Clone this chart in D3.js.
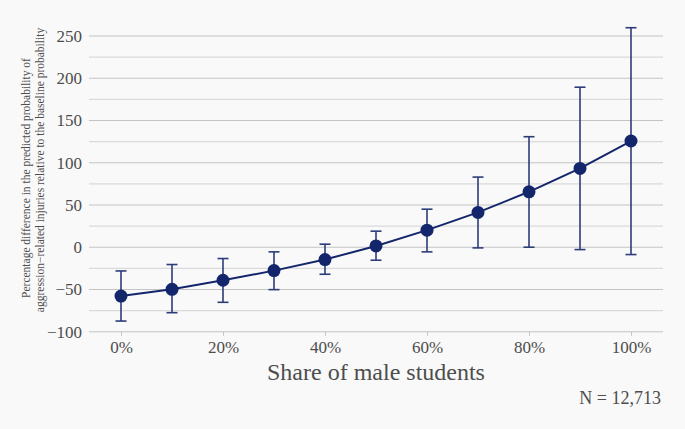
<!DOCTYPE html>
<html><head><meta charset="utf-8">
<script src="https://cdn.jsdelivr.net/npm/d3@7/dist/d3.min.js"></script>
<style>html,body{margin:0;padding:0;background:#f9f9f9;}svg{display:block;} svg text{font-family:"Liberation Serif","Times New Roman",serif;}</style>
</head><body><svg id="c" width="685" height="429"></svg>
<script>
const shares = [0, 10, 20, 30, 40, 50, 60, 70, 80, 90, 100];
const estimate = [-57.8, -49.8, -39.1, -27.7, -14.6, 1.5, 20.2, 41.2, 65.6, 93.3, 125.7];
const lower = [-87.4, -77.5, -65.2, -50.2, -32, -15.4, -5.5, -0.8, 0, -2.8, -8.7];
const upper = [-28.1, -20.5, -13.4, -5.5, 3.6, 19, 45, 83, 130.8, 189.4, 259.8];
const yTicks = [-100, -50, 0, 50, 100, 150, 200, 250];
const yGrid = [-100, -75, -50, -25, 0, 25, 50, 75, 100, 125, 150, 175, 200, 225, 250];
const xTicks = [0, 20, 40, 60, 80, 100];

const svg = d3.select("#c");
const font = '"Liberation Serif", "Times New Roman", serif';
const L = 89, R = 663;
const x = d3.scaleLinear().domain([0, 100]).range([121, 631]);
const y = d3.scaleLinear().domain([-100, 250]).range([331.7, 36]);

svg.append("rect").attr("width", 685).attr("height", 429).attr("fill", "#f9f9f9");

// gridlines
svg.append("g").selectAll("line").data(yGrid).join("line")
  .attr("x1", L).attr("x2", R)
  .attr("y1", d => y(d)).attr("y2", d => y(d))
  .attr("stroke", d => d % 50 === 0 ? "#c4c4c4" : "#dadada")
  .attr("stroke-width", 1.1);

// y axis labels
const yAxis = d3.axisLeft(y).tickValues(yTicks).tickSize(0).tickPadding(7)
  .tickFormat(d => d < 0 ? "\u2212" + Math.abs(d) : d);
const gy = svg.append("g").attr("transform", `translate(${L},0)`).call(yAxis);
gy.attr("font-family", null);
gy.select(".domain").remove();
gy.selectAll("text").style("font-family", font).style("font-size", "17px").attr("fill", "#4d4d4d");

// x axis
const xAxis = d3.axisBottom(x).tickValues(xTicks).tickSize(4).tickPadding(5)
  .tickFormat(d => d + "%");
const gx = svg.append("g").attr("transform", `translate(0,${y(-100)})`).call(xAxis);
gx.attr("font-family", null);
gx.select(".domain").remove();
gx.selectAll("line").attr("stroke", "#c4c4c4");
gx.selectAll("text").style("font-family", font).style("font-size", "17px").attr("fill", "#4d4d4d");

const data = shares.map((s, i) => ({s, e: estimate[i], lo: lower[i], hi: upper[i]}));
const col = "#14266b", ecol = "#2c3c78";

// error bars
const eb = svg.append("g").attr("stroke", ecol).attr("stroke-width", 1.6).attr("fill", "none");
eb.selectAll("line.v").data(data).join("line").attr("class", "v")
  .attr("x1", d => x(d.s)).attr("x2", d => x(d.s))
  .attr("y1", d => y(d.lo)).attr("y2", d => y(d.hi));
eb.selectAll("line.t").data(data).join("line").attr("class", "t")
  .attr("x1", d => x(d.s) - 5.5).attr("x2", d => x(d.s) + 5.5)
  .attr("y1", d => y(d.hi)).attr("y2", d => y(d.hi));
eb.selectAll("line.b").data(data).join("line").attr("class", "b")
  .attr("x1", d => x(d.s) - 5.5).attr("x2", d => x(d.s) + 5.5)
  .attr("y1", d => y(d.lo)).attr("y2", d => y(d.lo));

// line
svg.append("path").datum(data)
  .attr("d", d3.line().x(d => x(d.s)).y(d => y(d.e)))
  .attr("fill", "none").attr("stroke", col).attr("stroke-width", 2);

// points
svg.append("g").selectAll("circle").data(data).join("circle")
  .attr("cx", d => x(d.s)).attr("cy", d => y(d.e)).attr("r", 6.5).attr("fill", col);

// titles
svg.append("text").attr("x", (L + R) / 2).attr("y", 380).attr("text-anchor", "middle")
  .style("font-family", font).style("font-size", "24px").attr("fill", "#4d4d4d")
  .text("Share of male students");

svg.append("text").attr("x", 661).attr("y", 404).attr("text-anchor", "end")
  .style("font-family", font).style("font-size", "18px").attr("fill", "#4d4d4d")
  .text("N = 12,713");

svg.append("text").attr("transform", "translate(30,178) rotate(-90)")
  .attr("text-anchor", "middle").style("font-family", font).style("font-size", "11.5px").attr("fill", "#4d4d4d")
  .text("Percentage difference in the predicted probability of");
svg.append("text").attr("transform", "translate(43.5,170) rotate(-90)")
  .attr("text-anchor", "middle").style("font-family", font).style("font-size", "11.5px").attr("fill", "#4d4d4d")
  .text("aggression\u2212related injuries relative to the baseline probability");
</script></body></html>
